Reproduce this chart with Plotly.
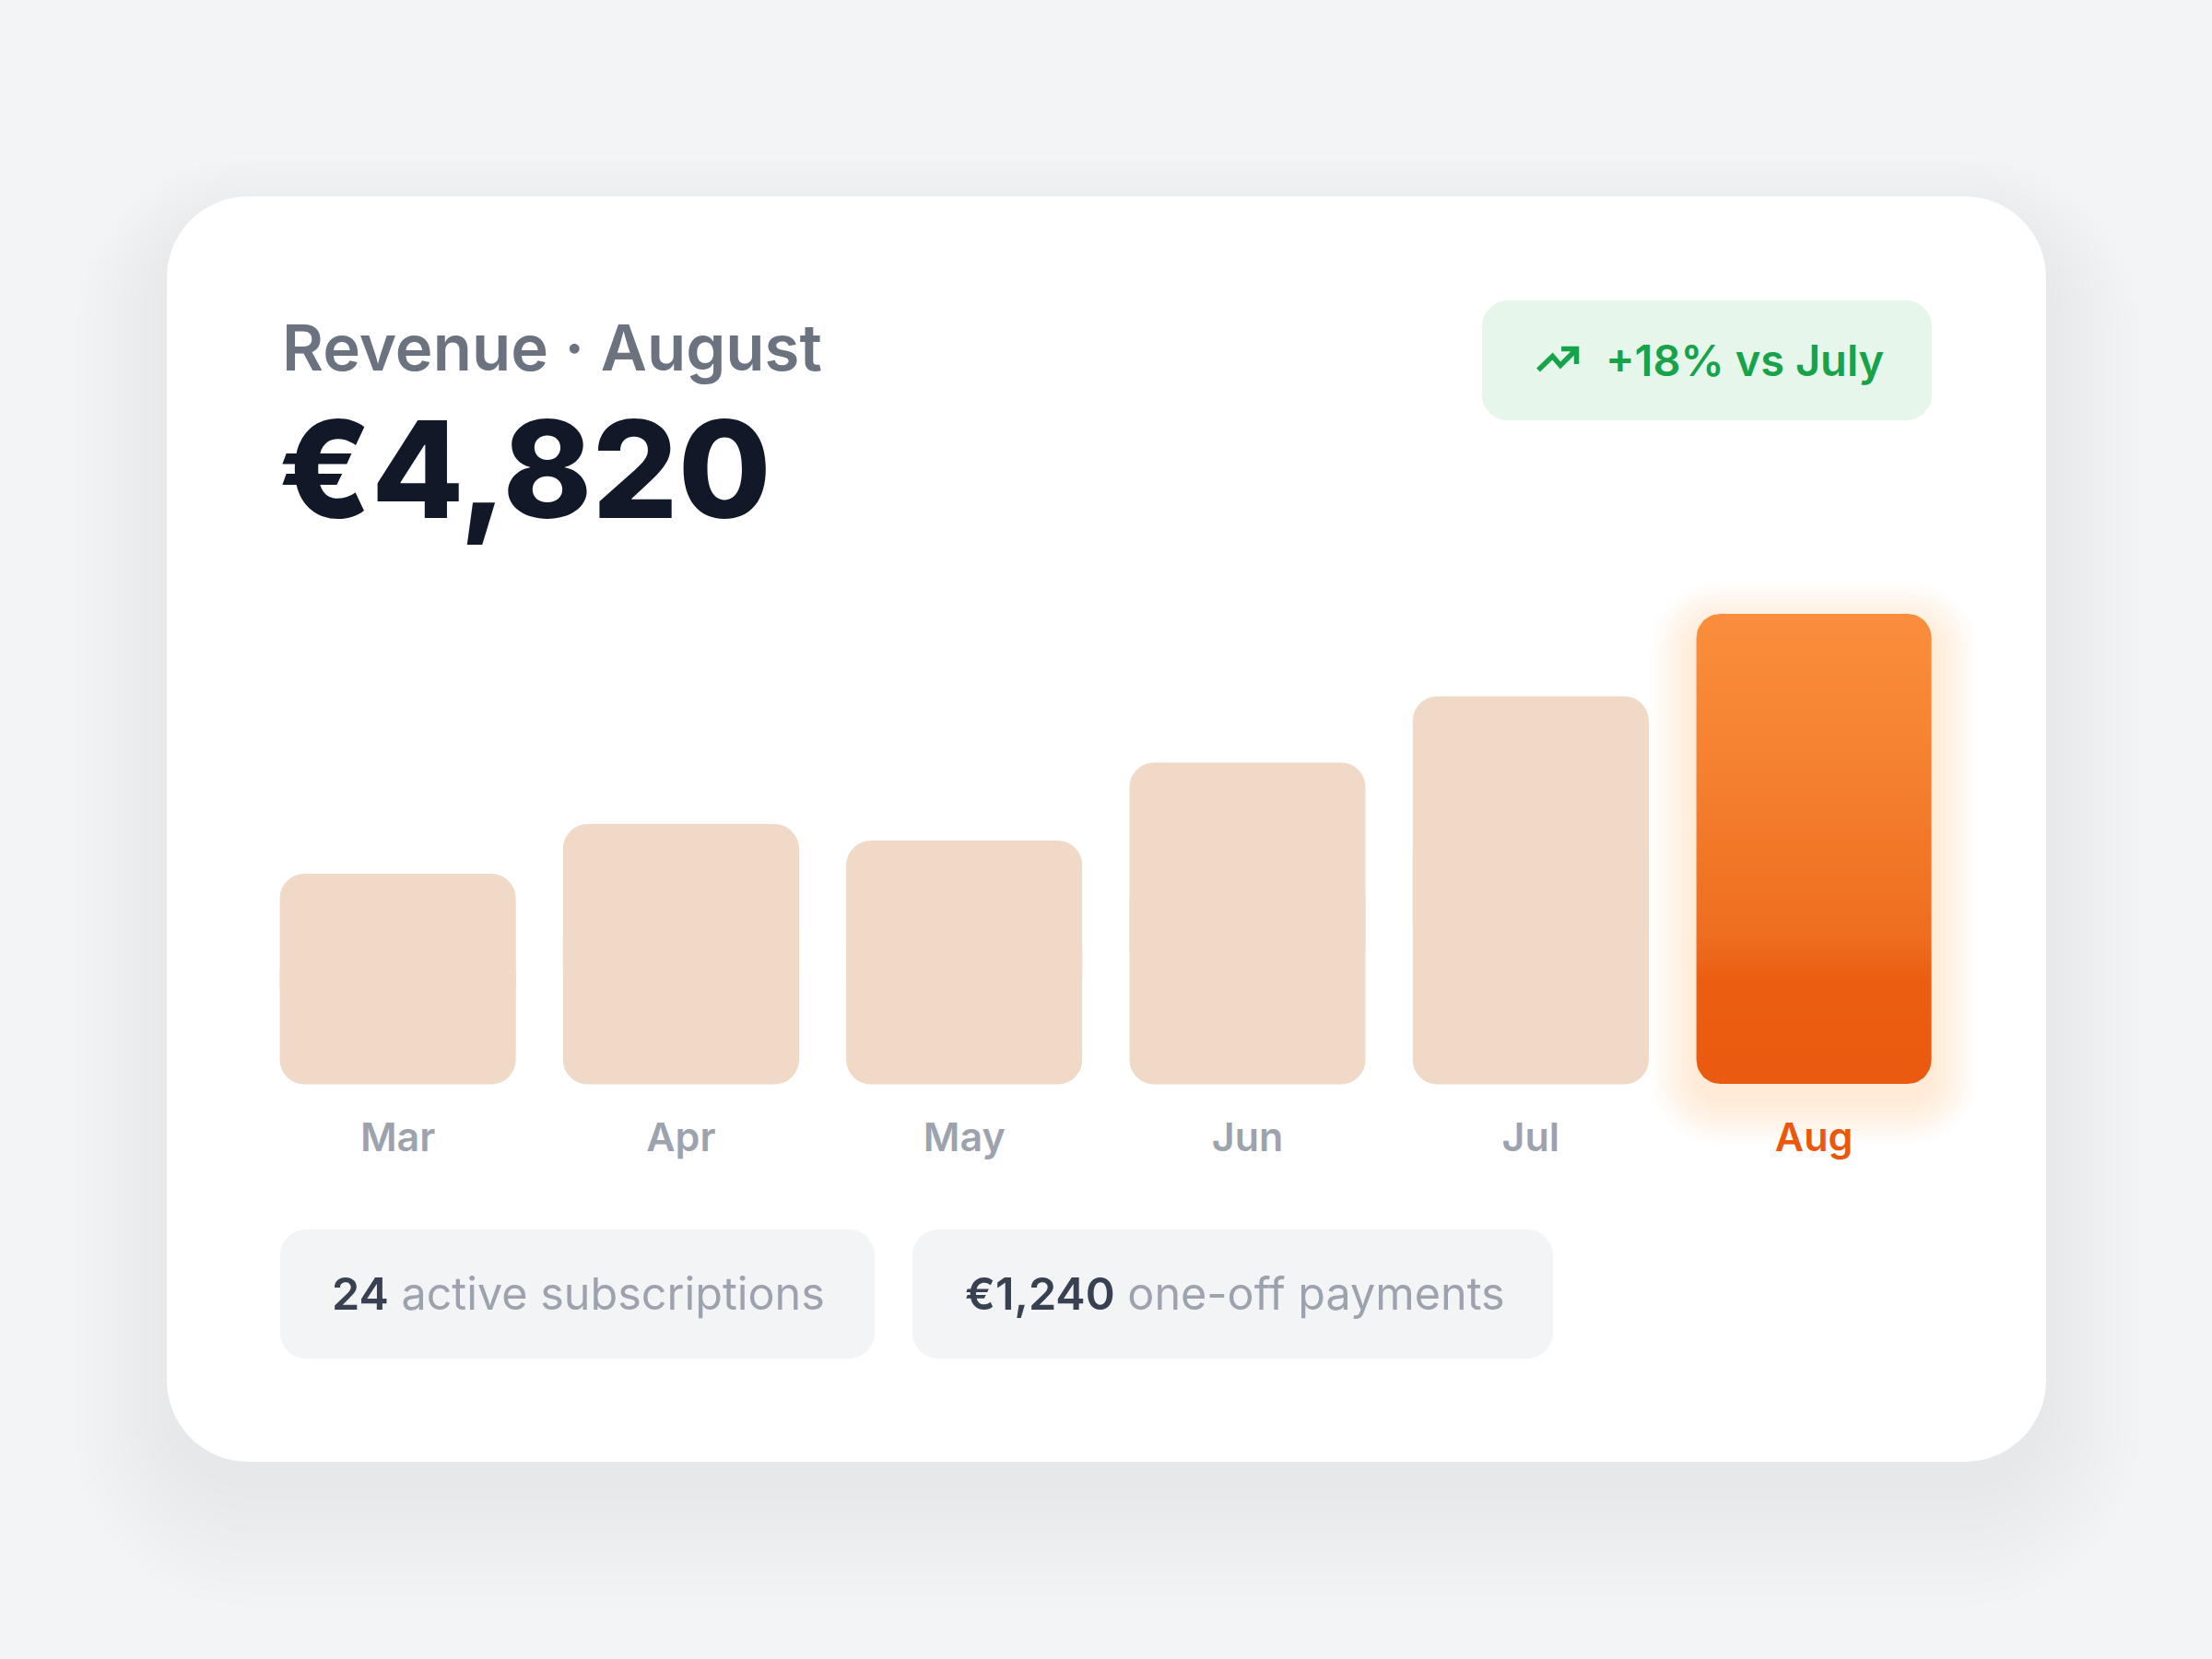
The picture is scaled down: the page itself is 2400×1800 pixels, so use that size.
import numpy as np
import plotly.graph_objects as go

months = ["Mar", "Apr", "May", "Jun", "Jul", "Aug"]
revenue = [2150, 2660, 2490, 3290, 3970, 4820]
title_text = "Revenue · August"
total_text = "€4,820"
change_text = "+18% vs July"
subs_count = "24"
subs_text = "active subscriptions"
oneoff_amount = "€1,240"
oneoff_text = "one-off payments"

W, H = 2400, 1800
FONT = "Inter"

# axis scale on the page (pixels)
CX0 = 431.6          # centre of first bar
SLOT = 307.3         # distance between bar centres
Y0_PX = 1176         # pixel row of value 0
PPU = 510 / 4820     # pixels per euro
Y_TOP_PX = 600
X_PAD = 0.75
Y_NEG = 700
BAR_W = 0.83
R_BAR = 26

PALE = "#f0d9c7"
ORANGE = "#ea580c"


def fx(px):
    return px / W


def fy(py):
    return 1 - py / H


def rrect(x0, y0, x1, y1, r, n=12):
    # rounded rectangle outline in page pixels (y down)
    pts = []
    corners = [(x1 - r, y0 + r, -90), (x1 - r, y1 - r, 0),
               (x0 + r, y1 - r, 90), (x0 + r, y0 + r, 180)]
    for cx, cy, a0 in corners:
        for t in np.linspace(a0, a0 + 90, n):
            pts.append((cx + r * np.cos(np.radians(t)), cy + r * np.sin(np.radians(t))))
    return pts


def paper_path(pts):
    return "M " + " L ".join(f"{fx(x):.5f},{fy(y):.5f}" for x, y in pts) + " Z"


def to_data(pts):
    xs = [(x - CX0) / SLOT for x, _ in pts]
    ys = [(Y0_PX - y) / PPU for _, y in pts]
    return xs + xs[:1], ys + ys[:1]


shapes = []

# card shadow + card
for k in range(12):
    g = 9 * k
    dy = 30 + 2.5 * k
    shapes.append(dict(type="path", xref="paper", yref="paper", layer="below",
                       path=paper_path(rrect(181 - g, 213 - g + dy, 2220 + g, 1586 + g + dy, 88 + g)),
                       fillcolor="rgba(17,24,39,0.0055)", line=dict(width=0)))
shapes.append(dict(type="path", xref="paper", yref="paper", layer="below",
                   path=paper_path(rrect(181, 213, 2220, 1586, 88)),
                   fillcolor="white", line=dict(width=0)))

# change badge
shapes.append(dict(type="path", xref="paper", yref="paper", layer="below",
                   path=paper_path(rrect(1608, 326, 2096, 456, 28)),
                   fillcolor="#e6f6eb", line=dict(width=0)))
icon = [(1669, 401.5), (1684.5, 386.5), (1693, 396.5), (1709.5, 380)]
head = [(1694, 378.5), (1710.5, 378.5), (1710.5, 395)]
icon_path = ("M " + " L ".join(f"{fx(x):.5f},{fy(y):.5f}" for x, y in icon) +
             " M " + " L ".join(f"{fx(x):.5f},{fy(y):.5f}" for x, y in head))
shapes.append(dict(type="path", xref="paper", yref="paper", path=icon_path,
                   fillcolor="rgba(0,0,0,0)", line=dict(color="#16a34a", width=5.5)))

# footer pills
for x0, x1 in [(304, 949), (990, 1685)]:
    shapes.append(dict(type="path", xref="paper", yref="paper", layer="below",
                       path=paper_path(rrect(x0, 1334, x1, 1474, 28)),
                       fillcolor="#f3f4f6", line=dict(width=0)))

fig = go.Figure()

# pale bars: a lower and an upper piece that overlap, so both ends come out rounded
idx = list(range(len(months)))
past_x = idx[:-1]
past_v = revenue[:-1]
pale_marker = dict(color=PALE, line=dict(color=PALE, width=1))
fig.add_trace(go.Bar(x=past_x, y=[-v * 0.65 for v in past_v], base=[v * 0.65 for v in past_v],
                     width=BAR_W, marker=pale_marker, hoverinfo="skip"))
fig.add_trace(go.Bar(x=past_x, y=[v * 0.65 for v in past_v], base=[v * 0.35 for v in past_v],
                     width=BAR_W, marker=pale_marker, hoverinfo="skip"))

# current month bar with soft glow and vertical gradient
cur = idx[-1]
cx = CX0 + cur * SLOT
half = BAR_W * SLOT / 2
top = Y0_PX - revenue[-1] * PPU

for k in range(10):
    e = 5 * (k + 1)
    gx, gy = to_data(rrect(cx - half - e, top - e + 16, cx + half + e, Y0_PX + e + 16, R_BAR + e))
    fig.add_trace(go.Scatter(x=gx, y=gy, fill="toself", mode="lines", line=dict(width=0),
                             fillcolor="rgba(249,115,22,0.016)", hoverinfo="skip"))

bx, by = to_data(rrect(cx - half, top, cx + half, Y0_PX, R_BAR))
fig.add_trace(go.Scatter(
    x=bx, y=by, fill="toself", mode="lines", line=dict(width=0), hoverinfo="skip",
    fillgradient=dict(type="vertical", start=0, stop=revenue[-1],
                      colorscale=[[0, "#ea5a10"], [0.22, "#eb5e12"], [0.32, "#ef6e20"],
                                  [0.7, "#f58231"], [1, "#fa8e3c"]]),
))

ticktext = months[:-1] + [f"<span style='color:{ORANGE}'>{months[-1]}</span>"]

ymax = (Y0_PX - Y_TOP_PX) / PPU
fig.update_layout(
    width=W, height=H,
    margin=dict(l=0, r=0, t=0, b=0),
    paper_bgcolor="#f3f4f6",
    plot_bgcolor="rgba(0,0,0,0)",
    showlegend=False,
    barmode="overlay",
    barcornerradius=R_BAR,
    shapes=shapes,
    xaxis=dict(domain=[fx(CX0 - X_PAD * SLOT), fx(CX0 + (len(months) - 1 + X_PAD) * SLOT)],
               range=[-X_PAD, len(months) - 1 + X_PAD],
               anchor="free", position=fy(Y0_PX),
               tickvals=idx, ticktext=ticktext, showgrid=False, zeroline=False,
               showline=False, ticks="", ticklabelstandoff=29, fixedrange=True,
               tickfont=dict(family=FONT, size=43, color="#9ca3af", weight=600)),
    yaxis=dict(domain=[fy(Y0_PX + Y_NEG * PPU), fy(Y_TOP_PX)], range=[-Y_NEG, ymax],
               visible=False, fixedrange=True),
)

annotations = [
    dict(text=title_text, x=fx(304), y=fy(377),
         font=dict(family=FONT, size=69, color="#6b7280", weight=600)),
    dict(text=total_text, x=fx(300), y=fy(509),
         font=dict(family=FONT, size=146, color="#111827", weight=800)),
    dict(text=change_text, x=fx(1740), y=fy(391),
         font=dict(family=FONT, size=47, color="#16a34a", weight=600)),
    dict(text=f"<span style='font-weight:600;color:#374151'>{subs_count}</span> {subs_text}",
         x=fx(358), y=fy(1403), font=dict(family=FONT, size=48.5, color="#9ca3af")),
    dict(text=f"<span style='font-weight:600;color:#374151'>{oneoff_amount}</span> {oneoff_text}",
         x=fx(1045), y=fy(1403), font=dict(family=FONT, size=48.5, color="#9ca3af")),
]
for a in annotations:
    a.update(xref="paper", yref="paper", xanchor="left", yanchor="middle", showarrow=False)
fig.update_layout(annotations=annotations)

fig.write_html("out.html", config={"displayModeBar": False},
               post_script="document.body.style.margin='0';document.body.style.overflow='hidden';")
